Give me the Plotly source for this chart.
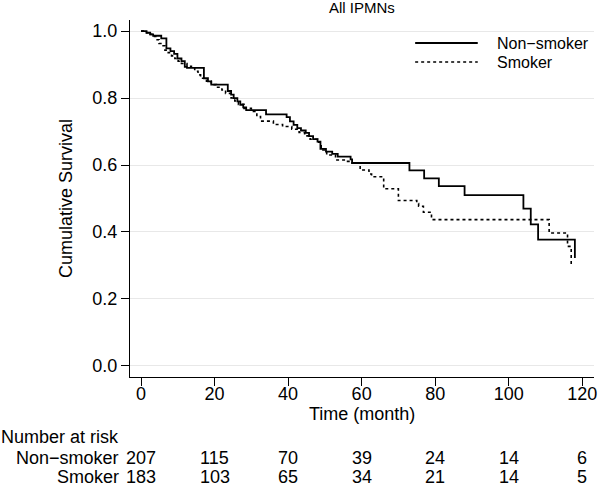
import plotly.graph_objects as go

# Kaplan-Meier step data (time in months, cumulative survival after the step)
ns_time = [0, 1.5, 2.5, 3.3, 5.5, 6.9, 8.0, 9.0, 9.9, 11.0, 11.9, 12.5, 17.1, 18.2, 19.1,
           23.6, 24.5, 25.2, 26.2, 27.0, 27.8, 28.6, 34.0, 39.6, 40.5, 41.5, 42.5, 43.5,
           44.8, 45.7, 46.8, 48.0, 48.8, 50.3, 52.0, 53.5, 57.0, 57.4, 73.0, 77.0, 81.0,
           88.0, 104.0, 106.0, 108.0, 118.0]
ns_surv = [1.0, 0.995, 0.99, 0.986, 0.978, 0.948, 0.94, 0.932, 0.918, 0.91, 0.893, 0.89,
           0.859, 0.85, 0.84, 0.821, 0.81, 0.80, 0.79, 0.78, 0.772, 0.764, 0.751, 0.743,
           0.73, 0.72, 0.71, 0.703, 0.696, 0.686, 0.677, 0.67, 0.648, 0.64, 0.633, 0.625,
           0.617, 0.606, 0.584, 0.56, 0.537, 0.51, 0.47, 0.423, 0.377, 0.322]

sm_time = [0, 1.5, 2.5, 3.3, 4.0, 4.9, 5.4, 6.5, 7.4, 8.3, 9.2, 10.1, 11.0, 12.5, 13.7,
           14.6, 15.5, 16.2, 17.8, 19.1, 20.5, 22.0, 23.0, 24.5, 25.5, 26.5, 28.0, 30.0,
           31.5, 32.5, 36.0, 38.5, 41.0, 43.0, 44.5, 46.0, 48.0, 49.0, 50.5, 52.9, 55.5,
           57.4, 59.6, 62.0, 62.7, 66.0, 70.0, 75.0, 75.5, 76.8, 79.0, 111.0, 116.0, 117.0]
sm_surv = [1.0, 0.995, 0.99, 0.984, 0.974, 0.963, 0.956, 0.943, 0.935, 0.926, 0.918, 0.91,
           0.903, 0.895, 0.89, 0.88, 0.869, 0.859, 0.85, 0.84, 0.832, 0.824, 0.814, 0.80,
           0.791, 0.781, 0.769, 0.76, 0.745, 0.731, 0.721, 0.715, 0.707, 0.697, 0.687,
           0.677, 0.668, 0.645, 0.63, 0.615, 0.611, 0.606, 0.585, 0.573, 0.565, 0.529,
           0.494, 0.485, 0.477, 0.459, 0.437, 0.397, 0.357, 0.30]

risk_times = [0, 20, 40, 60, 80, 100, 120]
risk_nonsmoker = [207, 115, 70, 39, 24, 14, 6]
risk_smoker = [183, 103, 65, 34, 21, 14, 5]

x_ticks = [0, 20, 40, 60, 80, 100, 120]
y_ticks = [0.0, 0.2, 0.4, 0.6, 0.8, 1.0]

group_names = ["Non\u2212smoker", "Smoker"]
title_text = "All IPMNs"

FONT = "Liberation Sans, Arial, Helvetica, sans-serif"
FS = 18       # axis / table text
FS_LEG = 16   # legend text
FS_TITLE = 15

# plot area geometry (pixels)
L, R, T, B = 130, 3, 20, 109
W, H = 600, 486
PW = W - L - R
PH = H - T - B


def px_x(p):
    return (p - L) / PW


def px_y(p):
    return (H - B - p) / PH


fig = go.Figure()
fig.add_trace(go.Scatter(x=sm_time, y=sm_surv, mode="lines", name=group_names[1],
                         line=dict(shape="hv", color="black", width=1.6, dash="3px,3px"),
                         showlegend=False, hoverinfo="skip"))
fig.add_trace(go.Scatter(x=ns_time, y=ns_surv, mode="lines", name=group_names[0],
                         line=dict(shape="hv", color="black", width=1.8),
                         showlegend=False, hoverinfo="skip"))

annotations = []
# title
annotations.append(dict(text=title_text, xref="paper", yref="paper", x=0.5, y=px_y(8),
                        xanchor="center", yanchor="middle", showarrow=False,
                        font=dict(family=FONT, size=FS_TITLE, color="black")))
# x axis title
annotations.append(dict(text="Time (month)", xref="paper", yref="paper", x=0.5, y=px_y(414),
                        xanchor="center", yanchor="middle", showarrow=False,
                        font=dict(family=FONT, size=FS, color="black")))
# risk table
annotations.append(dict(text="Number at risk", xref="paper", yref="paper", x=px_x(-2), y=px_y(437),
                        xanchor="left", yanchor="middle", showarrow=False,
                        font=dict(family=FONT, size=FS, color="black")))
for name, row, ypx in [(group_names[0], risk_nonsmoker, 458), (group_names[1], risk_smoker, 477)]:
    annotations.append(dict(text=name, xref="paper", yref="paper", x=px_x(121), y=px_y(ypx),
                            xanchor="right", yanchor="middle", showarrow=False,
                            font=dict(family=FONT, size=FS, color="black")))
    for t, n in zip(risk_times, row):
        annotations.append(dict(text=str(n), xref="x", yref="paper", x=t, y=px_y(ypx),
                                xanchor="center", yanchor="middle", showarrow=False,
                                font=dict(family=FONT, size=FS, color="black")))

# manual legend
shapes = []
for i, (name, ypx) in enumerate([(group_names[0], 43), (group_names[1], 62)]):
    shapes.append(dict(type="line", xref="paper", yref="paper", x0=px_x(417), x1=px_x(480),
                       y0=px_y(ypx), y1=px_y(ypx),
                       line=dict(color="black", width=1.8 if i == 0 else 1.6,
                                 dash="solid" if i == 0 else "3px,3px")))
    annotations.append(dict(text=name, xref="paper", yref="paper", x=px_x(497), y=px_y(ypx),
                            xanchor="left", yanchor="middle", showarrow=False,
                            font=dict(family=FONT, size=FS_LEG, color="black")))

fig.update_layout(
    width=W, height=H,
    margin=dict(l=L, r=R, t=T, b=B, pad=0),
    paper_bgcolor="white", plot_bgcolor="white",
    showlegend=False,
    annotations=annotations,
    shapes=shapes,
    font=dict(family=FONT, size=FS, color="black"),
)
fig.update_xaxes(range=[-3, 123.2], tickvals=x_ticks, ticktext=[str(v) for v in x_ticks],
                 showgrid=False, zeroline=False, showline=True, linecolor="black", linewidth=1,
                 ticks="outside", ticklen=8, tickcolor="black", tickwidth=1,
                 ticklabelstandoff=-8, ticklabeloverflow="allow",
                 tickfont=dict(family=FONT, size=FS, color="black"))
fig.update_yaxes(range=[-0.033, 1.033], tickvals=y_ticks, ticktext=[f"{v:.1f}" for v in y_ticks],
                 showgrid=True, gridcolor="#e8e8e8", gridwidth=1, zeroline=False,
                 showline=True, linecolor="black", linewidth=1,
                 ticks="outside", ticklen=8, tickcolor="black", tickwidth=1,
                 tickfont=dict(family=FONT, size=FS, color="black"),
                 title=dict(text="Cumulative Survival", standoff=15,
                            font=dict(family=FONT, size=FS, color="black")))

fig.write_html("out.html", config={"displayModeBar": False},
               post_script="document.body.style.margin='0';document.body.style.overflow='hidden';")
